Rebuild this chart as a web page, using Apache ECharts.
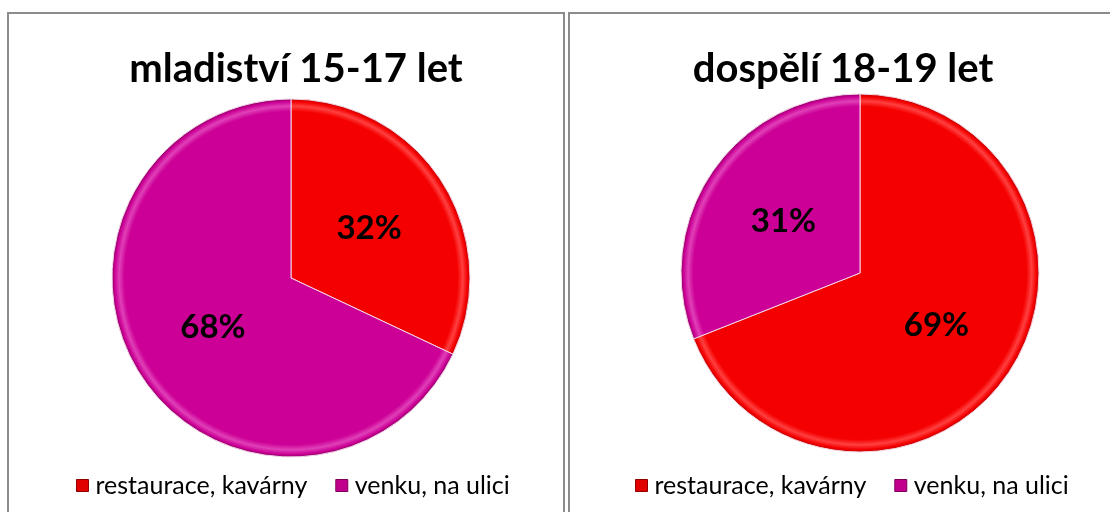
<!DOCTYPE html>
<html>
<head>
<meta charset="utf-8">
<script src="https://cdn.jsdelivr.net/npm/echarts@6/dist/echarts.min.js"></script>
<style>
  html, body { margin: 0; padding: 0; background: #fff; }
  #chart { width: 1110px; height: 512px; }
</style>
</head>
<body>
<!-- 图表容器 -->
<div id="chart"></div>
<script>
// data
var categories = ['restaurace, kavárny', 'venku, na ulici'];
var groups = ['mladiství 15-17 let', 'dospělí 18-19 let'];
var restaurace = [32, 69];
var venku = [68, 31];

var FONT = 'Lato, "Open Sans", sans-serif';
var RED = '#f50000';
var PURPLE = '#cc0096';
var R = 179;

// 饼图边缘的立体效果 (global radial gradient around the pie centre)
function bevel(c, base, light, dark) {
  return {
    type: 'radial', x: c[0], y: c[1], r: R, global: true,
    colorStops: [
      { offset: 0, color: base },
      { offset: 0.93, color: base },
      { offset: 0.96, color: light },
      { offset: 0.985, color: base },
      { offset: 1, color: dark }
    ]
  };
}

var centers = [[291, 278], [860, 273]];
var titleX = [291, 838];

var chart = echarts.init(document.getElementById('chart'));

var series = groups.map(function (g, i) {
  return {
    name: g,
    type: 'pie',
    center: centers[i],
    radius: R,
    startAngle: 90,
    clockwise: true,
    animation: false,
    itemStyle: { borderColor: '#f2d6e6', borderWidth: 1 },
    label: {
      show: true,
      position: 'inside',
      formatter: '{d}%',
      fontFamily: FONT,
      fontWeight: 'bold',
      fontSize: 33,
      color: '#000'
    },
    labelLine: { show: false },
    emphasis: { disabled: true },
    data: [
      { name: categories[0], value: restaurace[i], itemStyle: { color: bevel(centers[i], RED, '#ff4040', '#c00000') } },
      { name: categories[1], value: venku[i], itemStyle: { color: bevel(centers[i], PURPLE, '#e040b8', '#8c0064') } }
    ]
  };
});

var option = {
  backgroundColor: '#fff',
  title: groups.map(function (g, i) {
    return {
      text: g,
      left: titleX[i],
      top: 44,
      textAlign: 'center',
      textStyle: { fontFamily: FONT, fontWeight: 'bold', fontSize: 40, color: '#000' }
    };
  }),
  legend: [71, 630].map(function (x) {
    return {
      data: [
        { name: categories[0], itemStyle: { color: '#e00000', borderColor: '#900000', borderWidth: 1 } },
        { name: categories[1], itemStyle: { color: '#c0008c', borderColor: '#80005c', borderWidth: 1 } }
      ],
      left: x,
      top: 468,
      icon: 'rect',
      itemWidth: 12,
      itemHeight: 12,
      itemGap: 28,
      selectedMode: false,
      textStyle: { fontFamily: FONT, fontSize: 25, color: '#000', padding: [0, 0, 0, 2] }
    };
  }),
  graphic: [
    { type: 'rect', shape: { x: 8, y: 13, width: 556, height: 520 }, style: { fill: 'none', stroke: '#8c8c8c', lineWidth: 2 } },
    { type: 'rect', shape: { x: 569, y: 13, width: 560, height: 520 }, style: { fill: 'none', stroke: '#8c8c8c', lineWidth: 2 } }
  ],
  series: series
};

option && chart.setOption(option);
</script>
</body>
</html>
